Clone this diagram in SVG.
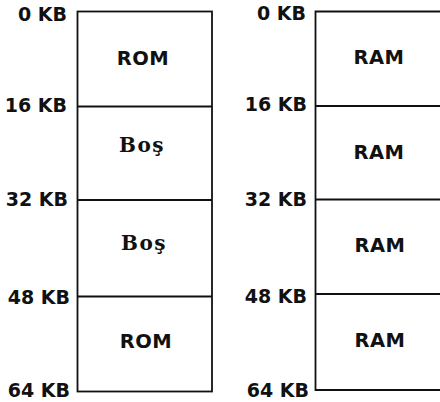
<svg xmlns="http://www.w3.org/2000/svg" width="440" height="402" viewBox="0 0 440 402">
<style>
.box{fill:none;stroke:#111;stroke-width:1.8}
.ln{stroke:#111;stroke-width:2}
.addr{font-family:"DejaVu Sans",sans-serif;font-weight:bold;font-size:19px;fill:#111;text-anchor:end}
.lbl{font-family:"DejaVu Sans",sans-serif;font-weight:bold;font-size:19.5px;fill:#111;text-anchor:middle;letter-spacing:0.5px}
.bos{font-family:"DejaVu Serif",serif;font-weight:bold;font-size:20px;fill:#111;text-anchor:middle;letter-spacing:1.5px}
</style>
<rect width="440" height="402" fill="#fff"/>
<g id="left-map">
  <rect class="box" x="77.5" y="11.5" width="134.5" height="380"/>
  <g id="left-labels">
    <text class="addr" x="67" y="21">0 KB</text>
    <text class="addr" x="67" y="112">16 KB</text>
    <text class="addr" x="68" y="206">32 KB</text>
    <text class="addr" x="70" y="304">48 KB</text>
    <text class="addr" x="70" y="397">64 KB</text>
  </g>
  <g id="L0"><text class="lbl" x="143" y="65">ROM</text></g>
  <g id="L1"><text class="bos" x="142" y="152">Boş</text></g>
  <g id="L2"><text class="bos" x="144" y="250">Boş</text></g>
  <g id="L3"><text class="lbl" x="146" y="348">ROM</text></g>
</g>
<g id="right-map">
  <path class="box" d="M441 11.5H315.5V390H441"/>
  <g id="right-labels">
    <text class="addr" x="306" y="20">0 KB</text>
    <text class="addr" x="307" y="111">16 KB</text>
    <text class="addr" x="307" y="206">32 KB</text>
    <text class="addr" x="307" y="303">48 KB</text>
    <text class="addr" x="309" y="397">64 KB</text>
  </g>
  <g id="R0"><text class="lbl" x="379" y="64">RAM</text></g>
  <g id="R1"><text class="lbl" x="379" y="159">RAM</text></g>
  <g id="R2"><text class="lbl" x="380" y="252">RAM</text></g>
  <g id="R3"><text class="lbl" x="380" y="347">RAM</text></g>
</g>
<g id="connectors">
  <line class="ln" x1="77" y1="106.5" x2="212" y2="106.5"/>
  <line class="ln" x1="77" y1="200" x2="212" y2="200"/>
  <line class="ln" x1="77" y1="296.5" x2="212" y2="296.5"/>
  <line class="ln" x1="315" y1="106" x2="440" y2="106"/>
  <line class="ln" x1="315" y1="199.5" x2="440" y2="199.5"/>
  <line class="ln" x1="315" y1="294" x2="440" y2="294"/>
</g>
</svg>
